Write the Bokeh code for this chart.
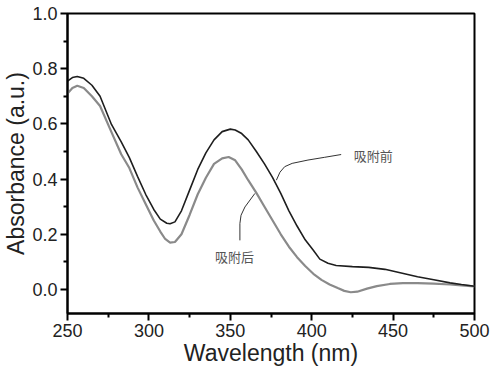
from bokeh.plotting import figure
from bokeh.models import Range1d, FixedTicker, CustomJSTickFormatter
from bokeh.core.properties import value
from bokeh.embed import file_html
from bokeh.resources import INLINE

# Before adsorption (吸附前)
wl_before = [250, 253, 256, 260, 265, 270, 277, 283, 288, 293, 298, 303, 307, 311, 313, 316, 320,
             325, 330, 335, 340, 345, 350, 353, 357, 361, 366, 371, 376, 381, 386, 391, 396, 401,
             405, 410, 415, 425, 435, 445, 455, 465, 475, 485, 492, 500]
abs_before = [0.755, 0.768, 0.772, 0.765, 0.74, 0.70, 0.598, 0.535, 0.478, 0.41, 0.345, 0.29, 0.255,
              0.24, 0.238, 0.245, 0.285, 0.36, 0.435, 0.495, 0.542, 0.572, 0.581, 0.578, 0.565,
              0.542, 0.5, 0.455, 0.405, 0.348, 0.285, 0.23, 0.18, 0.142, 0.11, 0.095, 0.087,
              0.083, 0.08, 0.073, 0.06, 0.046, 0.035, 0.024, 0.018, 0.012]

# After adsorption (吸附后)
wl_after = [250, 253, 256, 260, 265, 270, 277, 283, 288, 293, 298, 303, 307, 310, 313, 316, 320,
            325, 330, 335, 340, 345, 349, 353, 357, 361, 366, 371, 376, 381, 386, 391, 396, 401,
            406, 411, 416, 420, 424, 428, 434, 440, 448, 456, 465, 475, 485, 492, 500]
abs_after = [0.71, 0.73, 0.738, 0.73, 0.70, 0.665, 0.57, 0.49, 0.44, 0.37, 0.31, 0.25, 0.21, 0.183,
             0.17, 0.172, 0.2, 0.27, 0.345, 0.405, 0.455, 0.475, 0.48, 0.468, 0.435, 0.396, 0.35,
             0.30, 0.25, 0.2, 0.155, 0.117, 0.085, 0.057, 0.035, 0.018, 0.005, -0.005, -0.01,
             -0.008, 0.003, 0.012, 0.02, 0.023, 0.023, 0.021, 0.018, 0.015, 0.011]

# Annotation leader lines and labels
lead_before_x = [378.3, 380.5, 383.4, 388, 397.7, 408, 418.1]
lead_before_y = [0.396, 0.425, 0.445, 0.457, 0.469, 0.479, 0.489]
lead_after_x = [365.1, 359.0, 356.6, 355.9, 355.9]
lead_after_y = [0.348, 0.299, 0.269, 0.239, 0.178]
label_x = [425.9, 340.6]
label_y = [0.487, 0.12]
label_text = ["吸附前", "吸附后"]

x_ticks = [250, 300, 350, 400, 450, 500]
x_minor = [275, 325, 375, 425, 475]
y_ticks = [0.0, 0.2, 0.4, 0.6, 0.8, 1.0]
y_minor = [0.1, 0.3, 0.5, 0.7, 0.9]
x_title = "Wavelength (nm)"
y_title = "Absorbance (a.u.)"

p = figure(width=494, height=373, output_backend="svg", toolbar_location=None,
           x_range=Range1d(250, 500), y_range=Range1d(-0.087, 1.0),
           min_border_left=65, min_border_top=13, min_border_right=20, min_border_bottom=60)

p.line(wl_after, abs_after, line_color="#8a8a8a", line_width=2.2)
p.line(wl_before, abs_before, line_color="#1e1e1e", line_width=1.6)
p.line(lead_before_x, lead_before_y, line_color="#333333", line_width=1)
p.line(lead_after_x, lead_after_y, line_color="#333333", line_width=1)
p.text(label_x, label_y, text=label_text, text_font=value("Noto Sans CJK SC"),
       text_font_size="13px", text_color="#555555", text_align="left", text_baseline="middle")

p.grid.visible = False
p.outline_line_color = "black"
p.outline_line_width = 2
p.background_fill_color = "white"
p.border_fill_color = "white"

for ax in (p.xaxis[0], p.yaxis[0]):
    ax.axis_line_width = 2
    ax.axis_line_color = "black"
    ax.major_tick_line_width = 2
    ax.minor_tick_line_width = 2
    ax.major_tick_out = 7
    ax.major_tick_in = 0
    ax.minor_tick_out = 4
    ax.minor_tick_in = 0
    ax.major_label_text_font = "Liberation Sans"
    ax.major_label_text_font_size = "18px"
    ax.major_label_text_color = "#222222"
    ax.axis_label_text_font = "Liberation Sans"
    ax.axis_label_text_font_size = "23px"
    ax.axis_label_text_font_style = "normal"
    ax.axis_label_text_color = "#222222"

p.xaxis.ticker = FixedTicker(ticks=x_ticks, minor_ticks=x_minor)
p.yaxis.ticker = FixedTicker(ticks=y_ticks, minor_ticks=y_minor)
p.yaxis.formatter = CustomJSTickFormatter(code="return tick.toFixed(1);")
p.yaxis.axis_label = y_title
p.xaxis.axis_label = x_title
p.xaxis.major_label_standoff = 3
p.yaxis.major_label_standoff = 3
p.yaxis.axis_label_standoff = 0
p.xaxis.axis_label_standoff = 0

open("out.html", "w").write(file_html(p, INLINE))
